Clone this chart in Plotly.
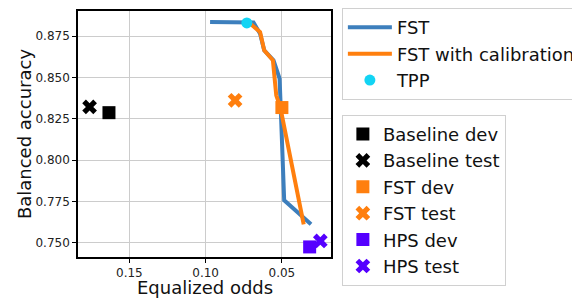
import plotly.graph_objects as go

# FST curve
fst_x = [0.0971, 0.0686, 0.0643, 0.0616, 0.0555, 0.0515, 0.0507, 0.0485, 0.0309]
fst_y = [0.8837, 0.8833, 0.8766, 0.8665, 0.8605, 0.8494, 0.8300, 0.7758, 0.7613]
# FST with calibration
cal_x = [0.0708, 0.0643, 0.0616, 0.0559, 0.0537, 0.0511, 0.0357]
cal_y = [0.8827, 0.8776, 0.8665, 0.8605, 0.8393, 0.8323, 0.7613]
# TPP
tpp_x = [0.0730]
tpp_y = [0.8831]
# single points
base_dev = (0.1634, 0.8288)
base_test = (0.1761, 0.8323)
fst_dev = (0.0500, 0.8319)
fst_test = (0.0807, 0.8363)
hps_dev = (0.0318, 0.7476)
hps_test = (0.0248, 0.7512)

x_ticks = [0.15, 0.10, 0.05]
x_tick_labels = ["0.15", "0.10", "0.05"]
y_ticks = [0.750, 0.775, 0.800, 0.825, 0.850, 0.875]
y_tick_labels = ["0.750", "0.775", "0.800", "0.825", "0.850", "0.875"]
x_title = "Equalized odds"
y_title = "Balanced accuracy"

BLUE = "#3d7fbd"
ORANGE = "#ff7f0e"
CYAN = "#12d4f4"
PURPLE = "#5500ff"
FONT = "DejaVu Sans"

fig = go.Figure()
fig.add_trace(go.Scatter(x=fst_x, y=fst_y, mode="lines", name="FST",
                         line=dict(color=BLUE, width=4), legend="legend"))
fig.add_trace(go.Scatter(x=cal_x, y=cal_y, mode="lines", name="FST with calibration",
                         line=dict(color=ORANGE, width=4), legend="legend"))
fig.add_trace(go.Scatter(x=tpp_x, y=tpp_y, mode="markers", name="TPP",
                         marker=dict(color=CYAN, size=11, symbol="circle"), legend="legend"))

pts = [
    ("Baseline dev", base_dev, "black", "square"),
    ("Baseline test", base_test, "black", "x"),
    ("FST dev", fst_dev, ORANGE, "square"),
    ("FST test", fst_test, ORANGE, "x"),
    ("HPS dev", hps_dev, PURPLE, "square"),
    ("HPS test", hps_test, PURPLE, "x"),
]
for name, (px, py), col, sym in pts:
    fig.add_trace(go.Scatter(x=[px], y=[py], mode="markers", name=name,
                             marker=dict(color=col, size=13, symbol=sym, line=dict(width=0)),
                             legend="legend2"))

axis_common = dict(showgrid=True, gridcolor="#cccccc", gridwidth=1,
                   showline=True, linecolor="black", linewidth=1.5, mirror=True,
                   ticks="outside", ticklen=4, tickcolor="black",
                   tickfont=dict(family=FONT, size=12, color="#222"),
                   zeroline=False, automargin=False)

fig.update_layout(
    width=580, height=298,
    margin=dict(l=70, r=257, t=3, b=49, autoexpand=False),
    paper_bgcolor="white", plot_bgcolor="white",
    font=dict(family=FONT, color="#111"),
    xaxis=dict(range=[0.1837, 0.0178], tickvals=x_ticks, ticktext=x_tick_labels,
               **axis_common),
    yaxis=dict(range=[0.7415, 0.8903], tickvals=y_ticks, ticktext=y_tick_labels,
               **axis_common),
    legend=dict(x=1.043, y=1.012, xanchor="left", yanchor="top",
                bgcolor="white", bordercolor="#d0d0d0", borderwidth=1,
                font=dict(family=FONT, size=18, color="#111"), itemwidth=44,
                tracegroupgap=0),
    legend2=dict(x=1.043, y=0.578, xanchor="left", yanchor="top",
                 bgcolor="white", bordercolor="#d0d0d0", borderwidth=1,
                 font=dict(family=FONT, size=18, color="#111"),
                 tracegroupgap=0),
    annotations=[
        dict(text=x_title, xref="paper", yref="paper", x=0.5, y=-0.122,
             xanchor="center", yanchor="middle", showarrow=False,
             font=dict(family=FONT, size=18, color="#111")),
        dict(text=y_title, xref="paper", yref="paper", x=-0.213, y=0.5,
             xanchor="center", yanchor="middle", showarrow=False, textangle=-90,
             font=dict(family=FONT, size=18, color="#111")),
    ],
)

fig.write_html("out.html")
